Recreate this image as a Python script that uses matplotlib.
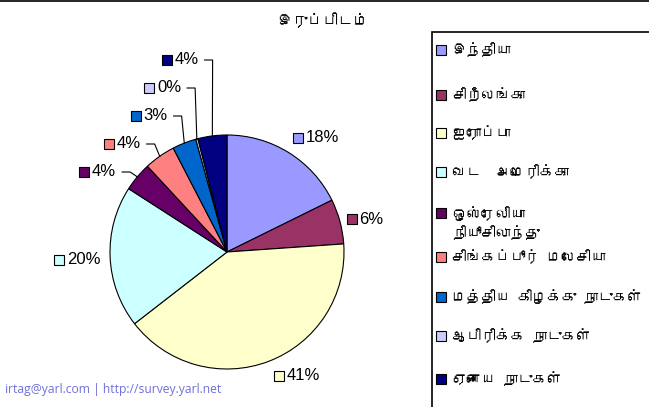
import numpy as np
import matplotlib
matplotlib.use('Agg')
import matplotlib.pyplot as plt
from matplotlib import font_manager
from matplotlib.ft2font import FT2Font
from matplotlib.patches import Rectangle

# data
title = 'இருப்பிடம்'
regions = ['இந்தியா', 'சிறீலங்கா', 'ஐரோப்பா', 'வட  அமெரிக்கா',
           'ஒஸ்ரேலியா\nநியூசிலாந்து', 'சிங்கப்பூர் மலேசியா',
           'மத்திய கிழக்கு நாடுகள்', 'ஆபிரிக்க நாடுகள்', 'ஏனைய நாடுகள்']
shares = [17.7, 6.2, 40.6, 19.6, 4.0, 4.3, 3.3, 0.3, 4.0]
colors = ['#9999FF', '#993366', '#FFFFCC', '#CCFFFF', '#660066',
          '#FF8080', '#0066CC', '#CCCCFF', '#000080']
footer = 'irtag@yarl.com | http://survey.yarl.net'

# layout (pixels, image coords)
W, H = 649, 407
cx, cy, R = 227, 252, 117
label_sq = [(298, 138), (351.5, 219), (278.5, 376), (59, 260), (84, 172),
            (108.5, 144), (135.5, 116), (149, 88), (166.5, 60)]
leader = [False, False, False, False, True, True, True, True, True]
legend_y = [50, 95, 133, 172, 213, 257, 297, 336, 379]


def find_tamil_font():
    for f in font_manager.fontManager.ttflist:
        try:
            if 0x0B87 in FT2Font(f.fname).get_charmap():
                return f.name
        except Exception:
            pass
    return None


tamil = find_tamil_font()
tfam = [tamil, 'DejaVu Sans'] if tamil else ['DejaVu Sans']
lfam = ['Liberation Sans', 'DejaVu Sans']


def py(y):
    return H - y


fig = plt.figure(figsize=(W / 100, H / 100), dpi=100)
ax = fig.add_axes([0, 0, 1, 1])

wedges, _ = ax.pie(shares, colors=colors, startangle=90, counterclock=False,
                   center=(cx, py(cy)), radius=R,
                   wedgeprops=dict(edgecolor='black', linewidth=0.8))
ax.set_xlim(0, W)
ax.set_ylim(0, H)
ax.set_aspect('equal')
ax.axis('off')

# top border
ax.plot([0, W], [H - 0.5, H - 0.5], color='black', lw=1.2, clip_on=False)

ax.text(323, py(20), title, ha='center', va='center', fontsize=11,
        family=tfam)

texts = []
for i, (v, c) in enumerate(zip(shares, colors)):
    sx, sy = label_sq[i]
    ax.plot(sx, py(sy), marker='s', ms=7, mfc=c, mec='black', mew=0.8)
    t = ax.text(sx + 8, py(sy), '%d%%' % round(v), ha='left', va='center',
                fontsize=12, family=lfam)
    texts.append(t)

fig.canvas.draw()
inv = ax.transData.inverted()
for i, w in enumerate(wedges):
    if not leader[i]:
        continue
    bb = texts[i].get_window_extent()
    x0, _ = inv.transform((bb.x1, bb.y0))
    x0 += 6
    y0 = py(label_sq[i][1])
    mid = np.deg2rad((w.theta1 + w.theta2) / 2)
    ex = cx + R * np.cos(mid)
    ey = py(cy) + R * np.sin(mid)
    ax.plot([x0, x0 + 8, ex], [y0, y0, ey], color='black', lw=0.8)

# legend box
ax.add_patch(Rectangle((432, py(500)), 300, 500 - 32, facecolor='white',
                       edgecolor='black', lw=1.2, clip_on=True))
for i, (name, c, y) in enumerate(zip(regions, colors, legend_y)):
    ax.plot(441, py(y), marker='s', ms=6.5, mfc=c, mec='black', mew=0.8)
    ty = py(y + 10) if '\n' in name else py(y)
    ax.text(452, ty, name, ha='left', va='center', fontsize=10.5,
            family=tfam, linespacing=1.3)

ax.text(5, py(390), footer, ha='left', va='center', fontsize=8.7,
        color='#7070D8', family=['Open Sans', 'DejaVu Sans'])

fig.savefig('out.png', dpi=100)
